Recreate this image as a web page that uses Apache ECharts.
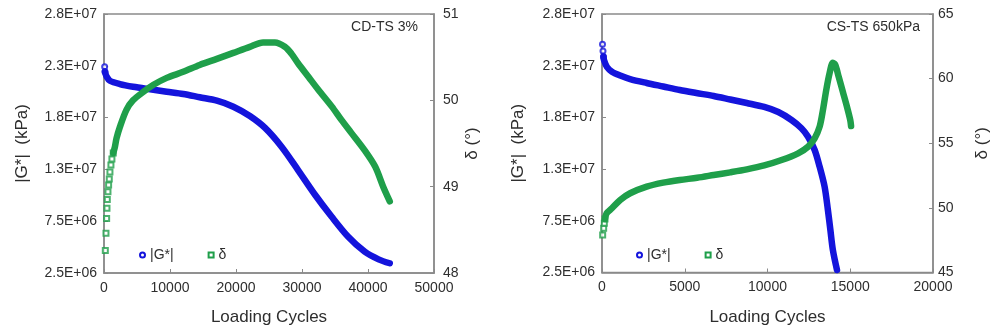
<!DOCTYPE html>
<html>
<head>
<meta charset="utf-8">
<script src="https://cdn.jsdelivr.net/npm/echarts@6/dist/echarts.min.js"></script>
<style>
  html, body { margin: 0; padding: 0; background: #fff; }
  #chart { width: 995px; height: 332px; }
</style>
</head>
<body>
<div id="chart"></div>
<script>
// ---- CD-TS 3% (controlled-strain time sweep) ----
const cdModulusCycles = [100, 150, 400, 900, 2400, 4400, 7000, 9500, 12000, 14500, 17100, 19600,
  22100, 24400, 26900, 29400, 32000, 34500, 37000, 39500, 41600, 43300];
const cdModulus = [22.41e6, 21.93e6, 21.45e6, 21.06e6, 20.74e6, 20.48e6, 20.23e6, 20.00e6, 19.78e6,
  19.46e6, 19.13e6, 18.55e6, 17.65e6, 16.50e6, 14.69e6, 12.44e6, 10.03e6, 7.93e6, 6.00e6, 4.56e6,
  3.82e6, 3.44e6];
const cdPhaseCycles = [200, 300, 400, 450, 500, 600, 700, 800, 900, 1050, 1200, 1400, 1650, 1900,
  2400, 3400, 4400, 6000, 7500, 9500, 12000, 14500, 17100, 19600, 22100, 24100, 25900, 27400,
  28400, 29400, 31000, 32500, 34500, 36000, 37500, 39500, 41100, 42300, 43300];
const cdPhase = [48.26, 48.46, 48.63, 48.75, 48.85, 48.94, 49.02, 49.09, 49.17, 49.25, 49.32, 49.39,
  49.46, 49.56, 49.69, 49.89, 50.00, 50.10, 50.18, 50.26, 50.33, 50.41, 50.48, 50.55, 50.62, 50.67,
  50.67, 50.62, 50.54, 50.43, 50.27, 50.12, 49.93, 49.77, 49.62, 49.42, 49.23, 49.00, 48.83];

// ---- CS-TS 650kPa (controlled-stress time sweep) ----
const csModulusCycles = [30, 60, 90, 120, 300, 600, 1100, 1700, 2700, 3700, 4700, 5700, 6750, 7750,
  8750, 9800, 10650, 11450, 12050, 12450, 12850, 13150, 13450, 13650, 13800, 13950, 14200];
const csModulus = [24.57e6, 23.92e6, 23.37e6, 23.05e6, 22.37e6, 21.92e6, 21.55e6, 21.21e6, 20.83e6,
  20.49e6, 20.15e6, 19.86e6, 19.57e6, 19.23e6, 18.89e6, 18.51e6, 18.02e6, 17.25e6, 16.45e6,
  15.63e6, 14.35e6, 12.73e6, 10.80e6, 8.54e6, 6.61e6, 4.68e6, 2.74e6];
const csPhaseCycles = [40, 100, 140, 180, 280, 600, 1100, 1700, 2700, 3700, 4700, 5750, 6750, 7750,
  8750, 9800, 10850, 11850, 12450, 12850, 13150, 13350, 13550, 13750, 13950, 14100, 14300, 14550,
  14800, 15000, 15050];
const csPhase = [47.90, 48.42, 48.81, 49.14, 49.58, 49.97, 50.61, 51.13, 51.64, 51.95, 52.16, 52.33,
  52.54, 52.75, 52.98, 53.28, 53.70, 54.22, 54.73, 55.38, 56.28, 57.57, 59.12, 60.41, 61.23, 61.05,
  60.15, 58.99, 57.83, 56.80, 56.33];

// ---- axis ticks ----
const cdCycleTicks = [0, 10000, 20000, 30000, 40000, 50000];
const csCycleTicks = [0, 5000, 10000, 15000, 20000];
const modulusTicks = [2.5e6, 7.5e6, 12.5e6, 17.5e6, 22.5e6, 27.5e6];
const cdPhaseTicks = [48, 49, 50, 51];
const csPhaseTicks = [45, 50, 55, 60, 65];

const BLUE = '#1414dc';
const GREEN = '#1f9f4a';
const AXIS = '#8a8a8a';
const TEXT = '#2e2e2e';
const FONT = '"Liberation Sans", Arial, sans-serif';

// leading points logged far apart, drawn as separate markers
const cdModulusLoose = 2, cdPhaseLoose = 12, csModulusLoose = 3, csPhaseLoose = 4;

function pairs(xs, ys, from, to) {
  return xs.slice(from, to).map((x, i) => [x, ys[from + i]]);
}
function sci(v) {
  return Math.round(v).toExponential(1).toUpperCase().replace(/E([+-])(\d)$/, 'E$10$2');
}
function plain(v) {
  return String(Math.round(v));
}
function range(ticks) {
  return { min: ticks[0], max: ticks[ticks.length - 1], interval: ticks[1] - ticks[0] };
}

const labelStyle = { color: TEXT, fontSize: 14, fontFamily: FONT };
const nameStyle = { color: TEXT, fontSize: 17, fontFamily: FONT };

function xAxis(grid, ticks) {
  return Object.assign({
    type: 'value', gridIndex: grid,
    name: 'Loading Cycles', nameLocation: 'middle', nameGap: 36, nameTextStyle: nameStyle,
    axisLine: { show: true, lineStyle: { color: AXIS, width: 1.5 } },
    axisTick: { show: true, inside: true, length: 4, lineStyle: { color: AXIS } },
    axisLabel: Object.assign({ margin: 8, formatter: plain }, labelStyle),
    splitLine: { show: false }
  }, range(ticks));
}
function modulusAxis(grid, gap) {
  return Object.assign({
    type: 'value', gridIndex: grid, position: 'left',
    name: '|G*|  (kPa)', nameLocation: 'middle', nameRotate: 90, nameGap: gap,
    nameTextStyle: nameStyle,
    axisLine: { show: true, lineStyle: { color: AXIS, width: 1.5 } },
    axisTick: { show: true, inside: true, length: 4, lineStyle: { color: AXIS } },
    axisLabel: Object.assign({ margin: 7, formatter: sci }, labelStyle),
    splitLine: { show: false }
  }, range(modulusTicks));
}
function phaseAxis(grid, ticks, gap, margin) {
  return Object.assign({
    type: 'value', gridIndex: grid, position: 'right',
    name: 'δ (°)', nameLocation: 'middle', nameRotate: 90, nameGap: gap,
    nameTextStyle: nameStyle,
    axisLine: { show: true, lineStyle: { color: AXIS, width: 1.5 } },
    axisTick: { show: true, inside: true, length: 4, lineStyle: { color: AXIS } },
    axisLabel: Object.assign({ margin: margin }, labelStyle),
    splitLine: { show: false }
  }, range(ticks));
}

function band(name, color, xi, yi, data) {
  return {
    name: name, type: 'line', xAxisIndex: xi, yAxisIndex: yi, data: data,
    showSymbol: false, smooth: 0.3,
    lineStyle: { color: color, width: 6.5, join: 'round', cap: 'round' },
    itemStyle: { color: color },
    silent: true, animation: false
  };
}
function dots(name, color, symbol, xi, yi, data) {
  return {
    name: name, type: 'scatter', xAxisIndex: xi, yAxisIndex: yi, data: data,
    symbol: symbol, symbolSize: 5,
    itemStyle: { color: color, borderColor: color, borderWidth: 1.2 },
    silent: true, animation: false
  };
}
function legend(left) {
  return {
    left: left, top: 248, padding: 0, itemWidth: 5, itemHeight: 5, itemGap: 34,
    selectedMode: false,
    itemStyle: { borderWidth: 1.2 },
    textStyle: { color: TEXT, fontSize: 14, fontFamily: FONT },
    data: [{ name: '|G*|', icon: 'emptyCircle' }, { name: 'δ', icon: 'emptyRect' }]
  };
}

const chart = echarts.init(document.getElementById('chart'), null, { renderer: 'canvas' });
chart.setOption({
  animation: false,
  backgroundColor: '#fff',
  textStyle: { fontFamily: FONT },
  title: [
    { text: 'CD-TS 3%', right: 577, top: 20, padding: 0,
      textStyle: { color: TEXT, fontSize: 14, fontWeight: 'normal', fontFamily: FONT } },
    { text: 'CS-TS 650kPa', right: 75, top: 20, padding: 0,
      textStyle: { color: TEXT, fontSize: 14, fontWeight: 'normal', fontFamily: FONT } }
  ],
  legend: [legend(139), legend(636)],
  grid: [
    { left: 104, top: 14, width: 330, height: 259, show: true, borderColor: AXIS, borderWidth: 1.5 },
    { left: 602, top: 14, width: 331, height: 258.5, show: true, borderColor: AXIS, borderWidth: 1.5 }
  ],
  xAxis: [xAxis(0, cdCycleTicks), xAxis(1, csCycleTicks)],
  yAxis: [
    modulusAxis(0, 73),
    phaseAxis(0, cdPhaseTicks, 30, 9),
    modulusAxis(1, 75),
    phaseAxis(1, csPhaseTicks, 41, 5)
  ],
  series: [
    band('|G*|', BLUE, 0, 0, pairs(cdModulusCycles, cdModulus, cdModulusLoose - 1)),
    dots('|G*|', BLUE, 'emptyCircle', 0, 0, pairs(cdModulusCycles, cdModulus, 0, cdModulusLoose)),
    band('δ', GREEN, 0, 1, pairs(cdPhaseCycles, cdPhase, cdPhaseLoose - 1)),
    dots('δ', GREEN, 'emptyRect', 0, 1, pairs(cdPhaseCycles, cdPhase, 0, cdPhaseLoose)),

    band('|G*|', BLUE, 1, 2, pairs(csModulusCycles, csModulus, csModulusLoose - 1)),
    dots('|G*|', BLUE, 'emptyCircle', 1, 2, pairs(csModulusCycles, csModulus, 0, csModulusLoose)),
    band('δ', GREEN, 1, 3, pairs(csPhaseCycles, csPhase, csPhaseLoose - 1)),
    dots('δ', GREEN, 'emptyRect', 1, 3, pairs(csPhaseCycles, csPhase, 0, csPhaseLoose))
  ]
});
</script>
</body>
</html>
